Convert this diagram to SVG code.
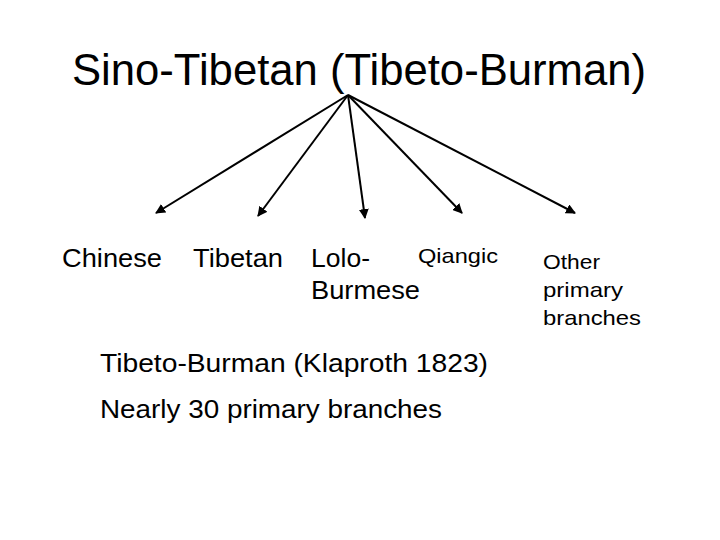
<svg xmlns="http://www.w3.org/2000/svg" width="720" height="540" viewBox="0 0 720 540">
<style>
text{font-family:"Liberation Sans",Arial,sans-serif;fill:#000}
.l{font-size:26px}
.s{font-size:21px}
.c{stroke:#000;stroke-width:2;fill:none;marker-end:url(#a)}
</style>
<defs><marker id="a" viewBox="0 0 10 10" refX="9" refY="5" markerWidth="5" markerHeight="5" orient="auto" markerUnits="strokeWidth"><path d="M0,0L10,5L0,10z" fill="#000"/></marker></defs>
<rect width="720" height="540" fill="#fff"/>
<g id="title"><text x="72" y="85" style="font-size:44px" textLength="574" lengthAdjust="spacingAndGlyphs">Sino-Tibetan (Tibeto-Burman)</text></g>
<g id="connectors">
<line class="c" x1="348" y1="95" x2="156" y2="213"/>
<line class="c" x1="348" y1="95" x2="258" y2="216"/>
<line class="c" x1="348" y1="95" x2="365" y2="218"/>
<line class="c" x1="348" y1="95" x2="462" y2="213"/>
<line class="c" x1="348" y1="95" x2="575" y2="213"/>
</g>
<g id="chinese"><text class="l" x="62" y="267" textLength="100" lengthAdjust="spacingAndGlyphs">Chinese</text></g>
<g id="tibetan"><text class="l" x="193" y="267" textLength="90" lengthAdjust="spacingAndGlyphs">Tibetan</text></g>
<g id="lolo"><text class="l" x="311" y="267" textLength="59" lengthAdjust="spacingAndGlyphs">Lolo-</text><text class="l" x="311" y="299" textLength="109" lengthAdjust="spacingAndGlyphs">Burmese</text></g>
<g id="qiangic"><text class="s" x="418" y="263" textLength="80" lengthAdjust="spacingAndGlyphs">Qiangic</text></g>
<g id="other"><text class="s" x="543" y="269" textLength="57" lengthAdjust="spacingAndGlyphs">Other</text><text class="s" x="543" y="297" textLength="80" lengthAdjust="spacingAndGlyphs">primary</text><text class="s" x="543" y="325" textLength="98" lengthAdjust="spacingAndGlyphs">branches</text></g>
<g id="notes"><text class="l" x="100" y="372" textLength="388" lengthAdjust="spacingAndGlyphs">Tibeto-Burman (Klaproth 1823)</text><text class="l" x="100" y="418" textLength="342" lengthAdjust="spacingAndGlyphs">Nearly 30 primary branches</text></g>
</svg>
